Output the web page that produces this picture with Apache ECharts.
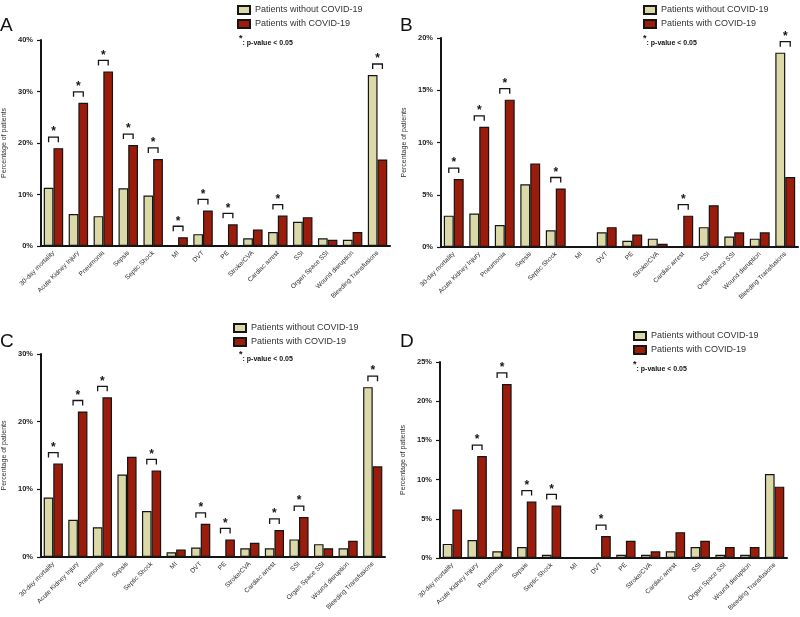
<!DOCTYPE html>
<html>
<head>
<meta charset="utf-8">
<script src="https://cdn.jsdelivr.net/npm/echarts@6/dist/echarts.min.js"></script>
<style>
  html, body { margin: 0; padding: 0; background: #fff; }
  #chartBox { width: 800px; height: 617px; }
</style>
</head>
<body>
<div id="chartBox"></div>
<script>
// categories (same for all four panels)
var categories = [
  "30-day mortality", "Acute Kidney Injury", "Pneumonia", "Sepsis", "Septic Shock",
  "MI", "DVT", "PE", "Stroke/CVA", "Cardiac arrest", "SSI",
  "Organ Space SSI", "Wound disruption", "Bleeding Transfusions"
];

// panel A
var withoutA = [11.3, 6.2, 5.8, 11.2, 9.8, 0.2, 2.3, 0.2, 1.5, 2.7, 4.7, 1.5, 1.2, 33.2];
var withA = [19.0, 27.8, 33.9, 19.6, 16.9, 1.7, 6.9, 4.2, 3.2, 5.9, 5.6, 1.2, 2.7, 16.8];
var sigA = [0, 1, 2, 3, 4, 5, 6, 7, 9, 13];

// panel B
var withoutB = [3.0, 3.2, 2.1, 6.0, 1.6, 0, 1.4, 0.6, 0.8, 0.1, 1.9, 1.0, 0.8, 18.6];
var withB = [6.5, 11.5, 14.1, 8.0, 5.6, 0.1, 1.9, 1.2, 0.3, 3.0, 4.0, 1.4, 1.4, 6.7];
var sigB = [0, 1, 2, 4, 9, 13];

// panel C
var withoutC = [8.8, 5.5, 4.4, 12.2, 6.8, 0.7, 1.4, 0.05, 1.3, 1.3, 2.6, 1.9, 1.3, 25.1];
var withC = [13.8, 21.5, 23.6, 14.8, 12.8, 1.1, 4.9, 2.6, 2.1, 4.0, 5.9, 1.3, 2.4, 13.4];
var sigC = [0, 1, 2, 4, 6, 7, 9, 10, 13];

// panel D
var withoutD = [1.8, 2.3, 0.85, 1.4, 0.4, 0, 0, 0.4, 0.4, 0.85, 1.4, 0.4, 0.4, 10.7];
var withD = [6.2, 13.0, 22.2, 7.2, 6.7, 0, 2.8, 2.2, 0.85, 3.3, 2.2, 1.4, 1.4, 9.1];
var sigD = [1, 2, 3, 4, 6];

// y axis ranges
var yMax = [40, 20, 30, 25];
var yStep = [10, 5, 10, 5];

var panels = [
  { letter: "A", without: withoutA, with: withA, sig: sigA,
    grid: { left: 41, top: 40, width: 349, height: 206 },
    legend: { left: 232, top: 0 }, pval: [239, 34], letterPos: [0, 16] },
  { letter: "B", without: withoutB, with: withB, sig: sigB,
    grid: { left: 441, top: 38, width: 357, height: 209 },
    legend: { left: 638, top: 0 }, pval: [643, 34], letterPos: [400, 16] },
  { letter: "C", without: withoutC, with: withC, sig: sigC,
    grid: { left: 41, top: 354, width: 344, height: 203 },
    legend: { left: 228, top: 318 }, pval: [239, 350], letterPos: [0, 332] },
  { letter: "D", without: withoutD, with: withD, sig: sigD,
    grid: { left: 440, top: 362, width: 347, height: 196 },
    legend: { left: 628, top: 326 }, pval: [633, 360], letterPos: [400, 332] }
];

var BEIGE = "#dcd9a9";
var RED = "#9c1c0b";
var INK = "#151515";
var CAT_GAP = 0.22;

// bracket + asterisk over a pair of bars
function bracketItem(params, api) {
  var top = api.coord([api.value(0), api.value(1)]);
  var band = api.size([1, 0])[0];
  var half = band * (1 - CAT_GAP) / 4;
  var y = top[1] - 11;
  return {
    type: "group",
    children: [
      {
        type: "polyline",
        shape: { points: [[top[0] - half, y + 5], [top[0] - half, y], [top[0] + half, y], [top[0] + half, y + 5]] },
        style: { stroke: INK, lineWidth: 1.3, fill: null }
      },
      {
        type: "text",
        style: {
          text: "*", x: top[0], y: y + 1, textAlign: "center", textVerticalAlign: "bottom",
          fontSize: 12, fontWeight: "bold", fill: INK, fontFamily: "Liberation Sans"
        }
      }
    ]
  };
}

var grids = [], xAxes = [], yAxes = [], series = [], legends = [], graphics = [];

panels.forEach(function (p, i) {
  grids.push(p.grid);
  xAxes.push({
    type: "category",
    gridIndex: i,
    data: categories,
    axisLine: { lineStyle: { color: INK, width: 2 } },
    axisTick: { alignWithLabel: true, length: 4, lineStyle: { color: INK, width: 1.2 } },
    axisLabel: { rotate: 45, interval: 0, fontSize: 6.5, color: "#2a2a2a", margin: 6 }
  });
  yAxes.push({
    type: "value",
    gridIndex: i,
    min: 0,
    max: yMax[i],
    interval: yStep[i],
    name: "Percentage of patients",
    nameLocation: "middle",
    nameGap: 33,
    nameTextStyle: { fontSize: 7, color: "#333" },
    axisLine: { show: true, lineStyle: { color: INK, width: 2 } },
    axisTick: { show: true, length: 4, lineStyle: { color: INK, width: 1.2 } },
    axisLabel: { formatter: "{value}%", fontSize: 7.5, fontWeight: "bold", color: "#222", margin: 8 },
    splitLine: { show: false }
  });
  series.push({
    name: "Patients without COVID-19",
    type: "bar",
    xAxisIndex: i,
    yAxisIndex: i,
    data: p.without,
    barGap: "0%",
    barCategoryGap: CAT_GAP * 100 + "%",
    itemStyle: { color: BEIGE, borderColor: INK, borderWidth: 1.2 }
  });
  series.push({
    name: "Patients with COVID-19",
    type: "bar",
    xAxisIndex: i,
    yAxisIndex: i,
    data: p.with,
    itemStyle: { color: RED, borderColor: INK, borderWidth: 1.2 }
  });
  series.push({
    name: "sig" + p.letter,
    type: "custom",
    xAxisIndex: i,
    yAxisIndex: i,
    renderItem: bracketItem,
    encode: { x: 0, y: 1 },
    silent: true,
    z: 5,
    data: p.sig.map(function (k) { return [k, Math.max(p.without[k], p.with[k])]; })
  });
  legends.push({
    left: p.legend.left,
    top: p.legend.top,
    orient: "vertical",
    icon: "rect",
    itemWidth: 12,
    itemHeight: 8,
    itemGap: 4,
    selectedMode: false,
    data: ["Patients without COVID-19", "Patients with COVID-19"],
    textStyle: { fontSize: 9, color: "#333" }
  });
  graphics.push({
    type: "text",
    left: p.letterPos[0],
    top: p.letterPos[1],
    style: { text: p.letter, fontSize: 19, fill: "#111", fontFamily: "Liberation Sans" }
  });
  graphics.push({
    type: "text",
    left: p.pval[0],
    top: p.pval[1],
    style: {
      text: "{s|*}{t|: p-value < 0.05}",
      rich: {
        s: { fontSize: 9, fontWeight: "bold", fill: "#111", verticalAlign: "top", padding: [0, 0, 4, 0] },
        t: { fontSize: 7, fontWeight: "bold", fill: "#111", padding: [5, 0, 0, 0] }
      }
    }
  });
});

var chart = echarts.init(document.getElementById("chartBox"));
chart.setOption({
  animation: false,
  textStyle: { fontFamily: "Liberation Sans, Arial, sans-serif" },
  grid: grids,
  xAxis: xAxes,
  yAxis: yAxes,
  legend: legends,
  series: series,
  graphic: graphics
});
</script>
</body>
</html>
